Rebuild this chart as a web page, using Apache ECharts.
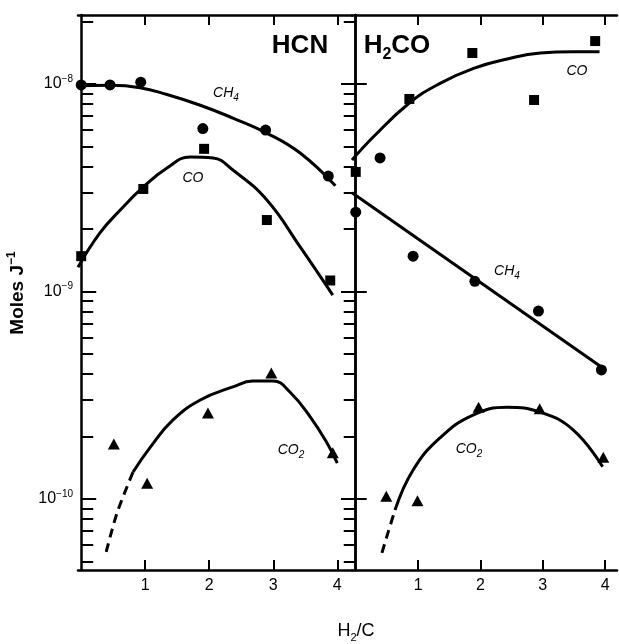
<!DOCTYPE html>
<html><head><meta charset="utf-8">
<script src="https://cdn.jsdelivr.net/npm/echarts@6/dist/echarts.min.js"></script>
<style>html,body{margin:0;padding:0;background:#fff}#c{width:619px;height:644px}</style>
</head><body><div id="c"></div>
<script>
// ---------- axes / ticks ----------
const xTicks = [1, 2, 3, 4];
const yRange = [4.55e-11, 2.15e-8];
const yMajorTicks = [1e-10, 1e-9, 1e-8];
const yMinorMantissas = [2, 3, 4, 5, 6, 7, 8, 9];
const yDecades = [1e-11, 1e-10, 1e-9, 1e-8];
const xRangeHCN = [-0.05, 4.23];
const xRangeH2CO = [-0.06, 4.19];

// ---------- HCN panel ----------
const hcnCH4X = [0, 0.45, 0.93, 1.9, 2.88, 3.86];
const hcnCH4Y = [9.9e-9, 9.9e-9, 1.02e-8, 6.1e-9, 6.0e-9, 3.6e-9];
const hcnCH4CurveX = [-0.05, 0.45, 0.92, 1.34, 1.86, 2.37, 2.9, 3.42, 3.97];
const hcnCH4CurveY = [9.8e-9, 9.85e-9, 9.6e-9, 8.9e-9, 7.9e-9, 6.85e-9, 5.8e-9, 4.65e-9, 3.23e-9];

const hcnCOX = [0, 0.97, 1.92, 2.9, 3.89];
const hcnCOY = [1.48e-9, 3.12e-9, 4.87e-9, 2.21e-9, 1.13e-9];
const hcnCOCurveX = [-0.05, 0.29, 0.61, 0.97, 1.34, 1.7, 2.06, 2.37, 2.9, 3.42, 3.93];
const hcnCOCurveY = [1.31e-9, 1.91e-9, 2.47e-9, 3.19e-9, 3.94e-9, 4.45e-9, 4.4e-9, 3.85e-9, 2.76e-9, 1.64e-9, 9.6e-10];

const hcnCO2X = [0.51, 1.03, 1.98, 2.97, 3.93];
const hcnCO2Y = [1.84e-10, 1.19e-10, 2.6e-10, 4.05e-10, 1.67e-10];
const hcnCO2DashX = [0.39, 0.56, 0.81];
const hcnCO2DashY = [5.56e-11, 8.57e-11, 1.35e-10];
const hcnCO2CurveX = [0.81, 1.08, 1.43, 1.86, 2.37, 2.68, 3.0, 3.26, 3.58, 3.84, 4.0];
const hcnCO2CurveY = [1.35e-10, 1.78e-10, 2.4e-10, 3.0e-10, 3.47e-10, 3.7e-10, 3.7e-10, 3.28e-10, 2.48e-10, 1.86e-10, 1.49e-10];

// ---------- H2CO panel ----------
const hcoCOX = [0, 0.86, 1.87, 2.86, 3.84];
const hcoCOY = [3.77e-9, 8.47e-9, 1.41e-8, 8.37e-9, 1.61e-8];
const hcoCOCurveX = [-0.06, 0.28, 0.86, 1.36, 1.89, 2.43, 2.96, 3.5, 3.91];
const hcoCOCurveY = [4.3e-9, 5.55e-9, 8.1e-9, 1.01e-8, 1.19e-8, 1.32e-8, 1.41e-8, 1.43e-8, 1.43e-8];

const hcoCH4X = [0, 0.39, 0.92, 1.91, 2.93, 3.94];
const hcoCH4Y = [2.41e-9, 4.4e-9, 1.48e-9, 1.12e-9, 8.05e-10, 4.19e-10];
const hcoCH4LineX = [-0.06, 3.94];
const hcoCH4LineY = [2.99e-9, 4.33e-10];

const hcoCO2X = [0.49, 0.99, 1.97, 2.95, 3.97];
const hcoCO2Y = [1.03e-10, 9.8e-11, 2.77e-10, 2.72e-10, 1.59e-10];
const hcoCO2DashX = [0.42, 0.52, 0.63];
const hcoCO2DashY = [5.5e-11, 6.93e-11, 8.85e-11];
const hcoCO2CurveX = [0.63, 0.92, 1.35, 1.88, 2.43, 2.96, 3.49, 3.96];
const hcoCO2CurveY = [8.85e-11, 1.38e-10, 1.97e-10, 2.54e-10, 2.77e-10, 2.62e-10, 2.15e-10, 1.43e-10];

// ---------- build ----------
const FONT = '"Liberation Sans", Arial, Helvetica, sans-serif';
const zip = (xs, ys) => xs.map((x, i) => [x, ys[i]]);
const yMinorTicks = [];
yDecades.forEach(d => yMinorMantissas.forEach(m => {
  const v = m * d;
  if (v >= yRange[0] && v <= yRange[1]) yMinorTicks.push(v);
}));
const yAllTicks = yMajorTicks.concat(yMinorTicks);

function yAxisDef(grid, pos, ticks, len, showLine, withLabels) {
  return {
    type: 'log', logBase: 10, gridIndex: grid, position: pos,
    min: yRange[0], max: yRange[1],
    axisLine: { show: showLine, lineStyle: { color: '#000', width: 2.5 } },
    axisTick: { show: true, inside: true, length: len, customValues: ticks,
                lineStyle: { color: '#000', width: 2 } },
    axisLabel: withLabels ? {
      show: true, customValues: yMajorTicks, margin: 5,
      formatter: v => '{b|10}{s|−' + Math.round(-Math.log10(v)) + '}',
      rich: {
        b: { fontFamily: FONT, fontSize: 16, color: '#000', lineHeight: 20 },
        s: { fontFamily: FONT, fontSize: 10, color: '#000', lineHeight: 16, verticalAlign: 'top' }
      }
    } : { show: false },
    splitLine: { show: false }, minorTick: { show: false }, minorSplitLine: { show: false }
  };
}
function xAxisDef(grid, pos, range, withLabels) {
  return {
    type: 'value', gridIndex: grid, position: pos, min: range[0], max: range[1],
    axisLine: { show: true, lineStyle: { color: '#000', width: 2.5 } },
    axisTick: { show: true, inside: true, length: 10, customValues: xTicks,
                lineStyle: { color: '#000', width: 2 } },
    axisLabel: withLabels ? { show: true, customValues: xTicks, margin: 8,
      fontFamily: FONT, fontSize: 16, color: '#000' } : { show: false },
    splitLine: { show: false }
  };
}
function scatter(xi, yi, xs, ys, symbol, size) {
  return { type: 'scatter', xAxisIndex: xi, yAxisIndex: yi, data: zip(xs, ys),
    symbol: symbol, symbolSize: size, itemStyle: { color: '#000', opacity: 1 }, z: 3, silent: true };
}
function curve(xi, yi, xs, ys, dashed) {
  return { type: 'line', xAxisIndex: xi, yAxisIndex: yi, data: zip(xs, ys),
    smooth: dashed ? 0.3 : 0.45, showSymbol: false, symbol: 'none', silent: true,
    lineStyle: { color: '#000', width: 3, type: dashed ? [9, 6] : 'solid', cap: 'butt' }, z: 2 };
}
const sub = { fontFamily: FONT, fontSize: 10, fontStyle: 'italic', color: '#000', lineHeight: 12, verticalAlign: 'bottom' };
const mainI = { fontFamily: FONT, fontSize: 14, fontStyle: 'italic', color: '#000', lineHeight: 20 };
function lbl(x, y, text) {
  return { type: 'text', x: x, y: y, silent: true,
    style: { text: text, rich: { a: mainI, s: sub }, align: 'center', verticalAlign: 'middle' } };
}

const option = {
  animation: false,
  backgroundColor: '#fff',
  grid: [
    { left: 78, top: 15, width: 274, height: 555 },
    { left: 352, top: 15, width: 265, height: 555 }
  ],
  xAxis: [
    xAxisDef(0, 'bottom', xRangeHCN, true),
    xAxisDef(0, 'top', xRangeHCN, false),
    xAxisDef(1, 'bottom', xRangeH2CO, true),
    xAxisDef(1, 'top', xRangeH2CO, false)
  ],
  yAxis: [
    yAxisDef(0, 'left', yMajorTicks, 15, true, true),
    yAxisDef(0, 'left', yMinorTicks, 12, false, false),
    yAxisDef(0, 'right', yMajorTicks, 11, false, false),
    yAxisDef(1, 'left', yMajorTicks, 11, true, false),
    yAxisDef(1, 'right', yAllTicks, 12, true, false)
  ],
  series: [
    curve(0, 0, hcnCH4CurveX, hcnCH4CurveY, false),
    curve(0, 0, hcnCOCurveX, hcnCOCurveY, false),
    curve(0, 0, hcnCO2CurveX, hcnCO2CurveY, false),
    curve(0, 0, hcnCO2DashX, hcnCO2DashY, true),
    scatter(0, 0, hcnCH4X, hcnCH4Y, 'circle', 11),
    scatter(0, 0, hcnCOX, hcnCOY, 'rect', 10),
    scatter(0, 0, hcnCO2X, hcnCO2Y, 'triangle', [12, 11]),
    curve(2, 3, hcoCOCurveX, hcoCOCurveY, false),
    curve(2, 3, hcoCH4LineX, hcoCH4LineY, false),
    curve(2, 3, hcoCO2CurveX, hcoCO2CurveY, false),
    curve(2, 3, hcoCO2DashX, hcoCO2DashY, true),
    scatter(2, 3, hcoCOX, hcoCOY, 'rect', 10),
    scatter(2, 3, hcoCH4X, hcoCH4Y, 'circle', 11),
    scatter(2, 3, hcoCO2X, hcoCO2Y, 'triangle', [12, 11])
  ],
  graphic: [
    { type: 'text', x: 300, y: 46, silent: true,
      style: { text: 'HCN', fontFamily: FONT, fontSize: 26, fontWeight: 'bold', fill: '#000',
               align: 'center', verticalAlign: 'middle' } },
    { type: 'text', x: 397, y: 46, silent: true,
      style: { text: '{a|H}{s|2}{a|CO}', align: 'center', verticalAlign: 'middle',
        rich: { a: { fontFamily: FONT, fontSize: 26, fontWeight: 'bold', color: '#000', lineHeight: 34 },
                s: { fontFamily: FONT, fontSize: 16, fontWeight: 'bold', color: '#000', lineHeight: 20, verticalAlign: 'bottom' } } } },
    lbl(226, 93, '{a|CH}{s|4}'),
    lbl(193, 178, '{a|CO}'),
    lbl(291, 450, '{a|CO}{s|2}'),
    lbl(577, 71, '{a|CO}'),
    lbl(507, 271, '{a|CH}{s|4}'),
    lbl(469, 449, '{a|CO}{s|2}'),
    { type: 'text', x: 18, y: 293, rotation: Math.PI / 2, silent: true,
      style: { text: '{a|Moles J}{s|−1}', align: 'center', verticalAlign: 'middle',
        rich: { a: { fontFamily: FONT, fontSize: 19, fontWeight: 'bold', color: '#000', lineHeight: 24 },
                s: { fontFamily: FONT, fontSize: 12, fontWeight: 'bold', color: '#000', lineHeight: 16, verticalAlign: 'top' } } } },
    { type: 'text', x: 356, y: 631, silent: true,
      style: { text: '{a|H}{s|2}{a|/C}', align: 'center', verticalAlign: 'middle',
        rich: { a: { fontFamily: FONT, fontSize: 18, color: '#000', lineHeight: 24 },
                s: { fontFamily: FONT, fontSize: 11, color: '#000', lineHeight: 14, verticalAlign: 'bottom' } } } }
  ]
};
const chart = echarts.init(document.getElementById('c'));
chart.setOption(option);
</script>
</body></html>
